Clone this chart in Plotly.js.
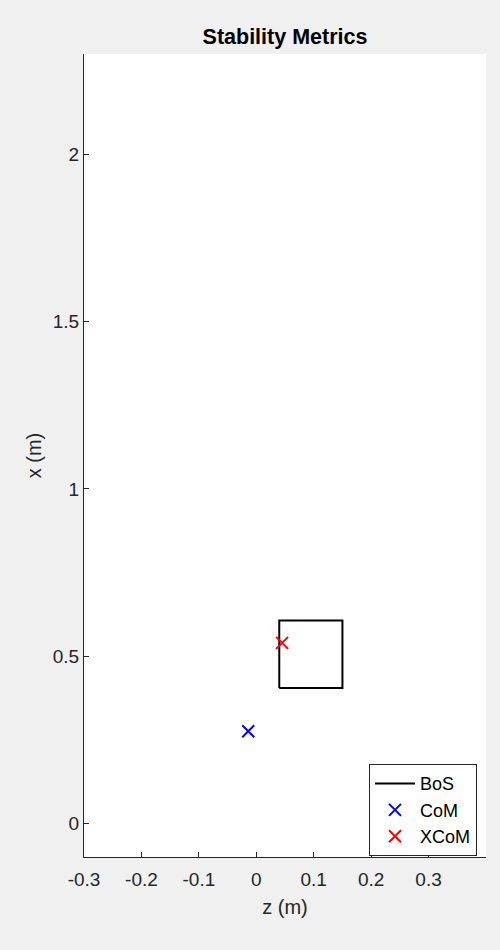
<!DOCTYPE html>
<html>
<head>
<meta charset="utf-8">
<script src="https://cdn.plot.ly/plotly-3.0.1.min.js"></script>
<style>
  html, body { margin: 0; padding: 0; background: #f0f0f0; }
  #chart { width: 500px; height: 950px; }
</style>
</head>
<body>
<div id="chart"></div>
<script>
// Base of support polygon (closed), z and x coordinates in metres
const bosZ = [0.04, 0.15, 0.15, 0.04, 0.04];
const bosX = [0.405, 0.405, 0.607, 0.607, 0.405];
// Centre of mass
const comZ = [-0.014];
const comX = [0.276];
// Extrapolated centre of mass
const xcomZ = [0.045];
const xcomX = [0.540];

const xTicks = [-0.3, -0.2, -0.1, 0, 0.1, 0.2, 0.3];
const xTickText = ['-0.3', '-0.2', '-0.1', '0', '0.1', '0.2', '0.3'];
const yTicks = [0, 0.5, 1, 1.5, 2];
const yTickText = ['0', '0.5', '1', '1.5', '2'];

const FONT = 'Liberation Sans, Arial, Helvetica, sans-serif';
const AX = '#262626';

const traces = [
  {
    x: bosZ, y: bosX, name: 'BoS', mode: 'lines', type: 'scatter',
    line: { color: '#000000', width: 2 }
  },
  {
    x: comZ, y: comX, name: 'CoM', mode: 'markers', type: 'scatter',
    marker: { symbol: 'x-thin', size: 12, color: '#0000ff', line: { color: '#0000ff', width: 2 } }
  },
  {
    x: xcomZ, y: xcomX, name: 'XCoM', mode: 'markers', type: 'scatter',
    marker: { symbol: 'x-thin', size: 12, color: '#ff0000', line: { color: '#ff0000', width: 2 } }
  }
];

const layout = {
  width: 500, height: 950,
  paper_bgcolor: '#f0f0f0',
  plot_bgcolor: '#ffffff',
  margin: { l: 84, r: 13.5, t: 54, b: 93 },
  font: { family: FONT, size: 19, color: AX },
  title: {
    text: '<b>Stability Metrics</b>',
    font: { family: FONT, size: 21.5, color: '#000000' },
    x: 0.5, xref: 'paper', xanchor: 'center',
    y: 1, yref: 'paper', yanchor: 'bottom', pad: { b: 10 }
  },
  showlegend: true,
  legend: {
    x: 0.709, y: 0.1155, xanchor: 'left', yanchor: 'top',
    xref: 'paper', yref: 'paper',
    bgcolor: '#ffffff', bordercolor: '#262626', borderwidth: 1,
    font: { family: FONT, size: 18, color: '#000000' },
    tracegroupgap: 0, itemwidth: 40
  },
  xaxis: {
    range: [-0.3, 0.4],
    tickvals: xTicks, ticktext: xTickText,
    ticks: 'inside', ticklen: 5, tickcolor: AX, tickwidth: 1,
    ticklabelstandoff: 5,
    showline: true, linecolor: AX, linewidth: 1, mirror: false,
    showgrid: false, zeroline: false,
    tickfont: { family: FONT, size: 19, color: AX },
    title: { text: 'z (m)', font: { family: FONT, size: 20, color: AX }, standoff: 11 }
  },
  yaxis: {
    range: [-0.1, 2.3],
    tickvals: yTicks, ticktext: yTickText,
    ticks: 'inside', ticklen: 5, tickcolor: AX, tickwidth: 1,
    showline: true, linecolor: AX, linewidth: 1, mirror: false,
    showgrid: false, zeroline: false,
    tickfont: { family: FONT, size: 19, color: AX },
    title: { text: 'x (m)', font: { family: FONT, size: 20, color: AX }, standoff: 5 }
  }
};

Plotly.newPlot('chart', traces, layout, { displayModeBar: false, staticPlot: true });
</script>
</body>
</html>
